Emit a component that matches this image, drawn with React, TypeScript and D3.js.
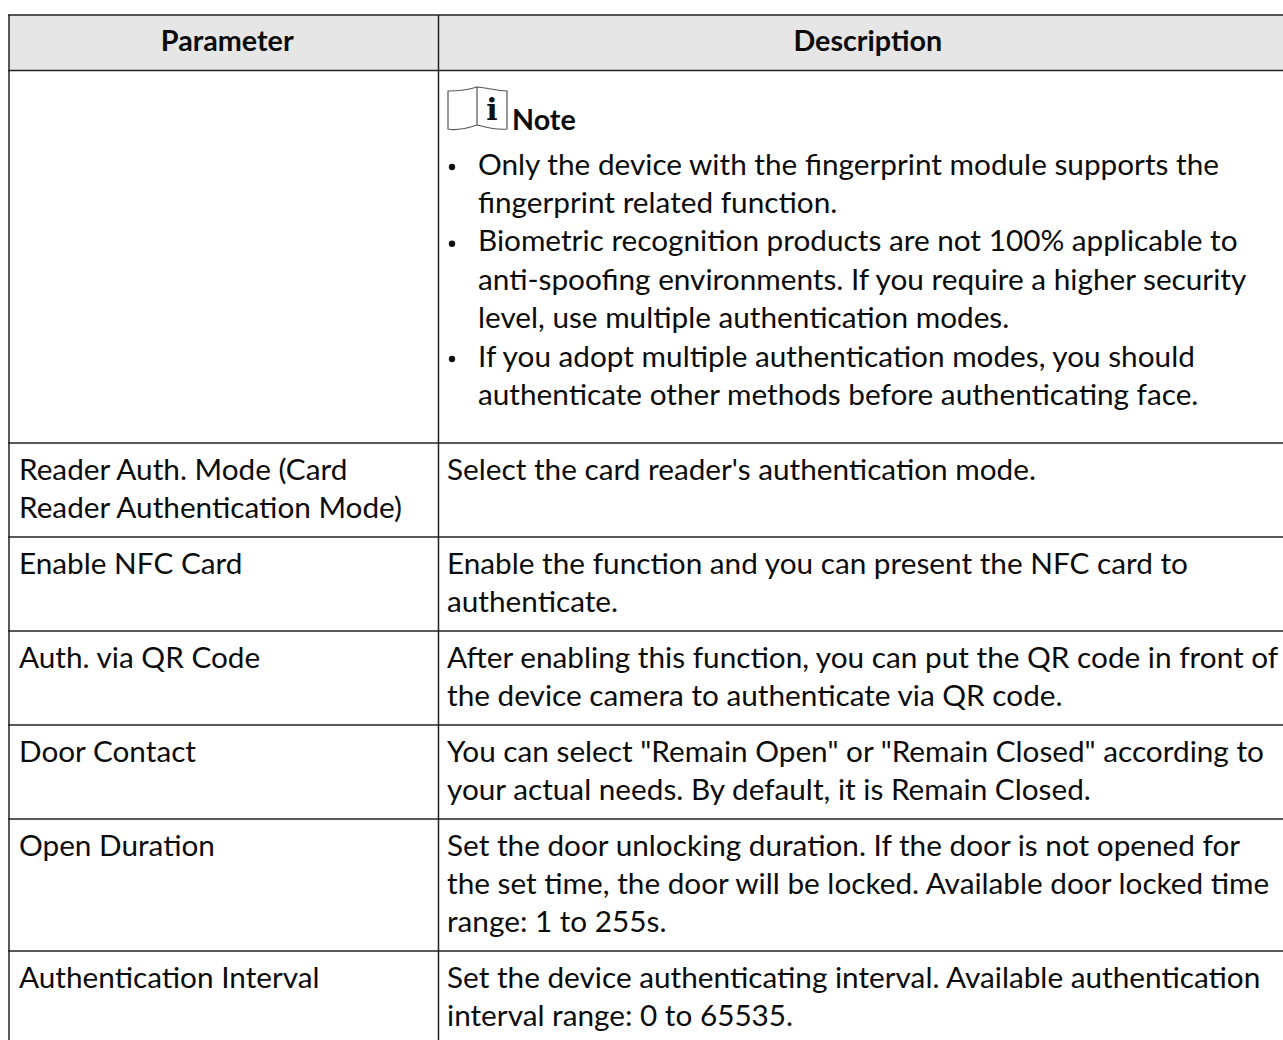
import React, { useEffect, useRef } from "react";
import * as d3 from "d3";

const headers = ["Parameter", "Description"];
const columnEdges = [9, 438.5, 1290];
const rowEdges = [15, 70.5, 443, 537, 631, 725, 819, 951, 1060];
const noteLabel = "Note";
const noteBullets = [
  ["Only the device with the fingerprint module supports the", "fingerprint related function."],
  ["Biometric recognition products are not 100% applicable to", "anti-spoofing environments. If you require a higher security", "level, use multiple authentication modes."],
  ["If you adopt multiple authentication modes, you should", "authenticate other methods before authenticating face."],
];
const parameters = [
  ["Reader Auth. Mode (Card", "Reader Authentication Mode)"],
  ["Enable NFC Card"],
  ["Auth. via QR Code"],
  ["Door Contact"],
  ["Open Duration"],
  ["Authentication Interval"],
];
const descriptions = [
  ["Select the card reader's authentication mode."],
  ["Enable the function and you can present the NFC card to", "authenticate."],
  ["After enabling this function, you can put the QR code in front of", "the device camera to authenticate via QR code."],
  ["You can select \"Remain Open\" or \"Remain Closed\" according to", "your actual needs. By default, it is Remain Closed."],
  ["Set the door unlocking duration. If the door is not opened for", "the set time, the door will be locked. Available door locked time", "range: 1 to 255s."],
  ["Set the device authenticating interval. Available authentication", "interval range: 0 to 65535."],
];

const FONT = "Lato, sans-serif";
const SIZE = 29;
const SX = 1.026;
const SX_BOLD = 0.99;
const LH = 38;

export default function App() {
  const ref = useRef<SVGSVGElement>(null);
  useEffect(() => {
    const svg = d3.select(ref.current);
    svg.selectAll("*").remove();
    const text = (x: number, y: number, s: string, bold = false, anchor = "start") =>
      svg.append("text")
        .attr("transform", `translate(${x},${y + 0.5}) scale(${bold ? SX_BOLD : SX},1)`)
        .attr("text-anchor", anchor)
        .attr("font-family", FONT)
        .attr("font-size", SIZE)
        .attr("font-weight", bold ? 700 : 400)
        .attr("fill", "#0c0c0c")
        .text(s);

    svg.append("rect").attr("x", columnEdges[0]).attr("y", rowEdges[0])
      .attr("width", columnEdges[2] - columnEdges[0]).attr("height", rowEdges[1] - rowEdges[0]).attr("fill", "#e6e6e6");

    rowEdges.forEach((y, i) => {
      svg.append("line").attr("x1", columnEdges[0] - 1).attr("x2", 1283).attr("y1", y).attr("y2", y)
        .attr("stroke", i === 0 ? "#555" : "#222").attr("stroke-width", i === 0 ? 2 : 1.5);
    });
    columnEdges.forEach((x) => {
      svg.append("line").attr("x1", x).attr("x2", x).attr("y1", rowEdges[0]).attr("y2", 1040)
        .attr("stroke", "#222").attr("stroke-width", 1.5);
    });

    headers.forEach((h, i) => {
      text((columnEdges[i] + columnEdges[i + 1]) / 2 + 3.5, 50, h, true, "middle");
    });

    const book = d3.path();
    book.moveTo(448, 91);
    book.bezierCurveTo(458, 91, 468, 90, 477, 87);
    book.bezierCurveTo(488, 88, 498, 91, 507, 91);
    book.lineTo(507, 129);
    book.bezierCurveTo(498, 130, 488, 128, 477, 125);
    book.bezierCurveTo(468, 128, 458, 131, 448, 129);
    book.closePath();
    book.moveTo(477, 87);
    book.lineTo(477, 125);
    svg.append("path").attr("d", book.toString()).attr("fill", "#fff").attr("stroke", "#555").attr("stroke-width", 1.2);
    svg.append("text").attr("x", 492).attr("y", 120).attr("text-anchor", "middle")
      .attr("font-family", "'DejaVu Serif', serif").attr("font-weight", 700).attr("font-size", 30).attr("fill", "#111").text("i");
    text(512, 129, noteLabel, true);

    let y = 174;
    noteBullets.forEach((lines) => {
      svg.append("circle").attr("cx", 452).attr("cy", y - 7).attr("r", 3.2).attr("fill", "#111");
      lines.forEach((l) => {
        text(478, y, l);
        y += LH + 0.4;
      });
    });

    parameters.forEach((lines, i) => {
      const top = rowEdges[i + 2] + 36;
      lines.forEach((l, j) => text(19, top + j * LH, l));
      descriptions[i].forEach((l, j) => text(447, top + j * LH, l));
    });
  }, []);
  return (
    <svg ref={ref} width={1283} height={1040}
      style={{ position: "fixed", left: 0, top: 0, background: "#fff" }} />
  );
}
